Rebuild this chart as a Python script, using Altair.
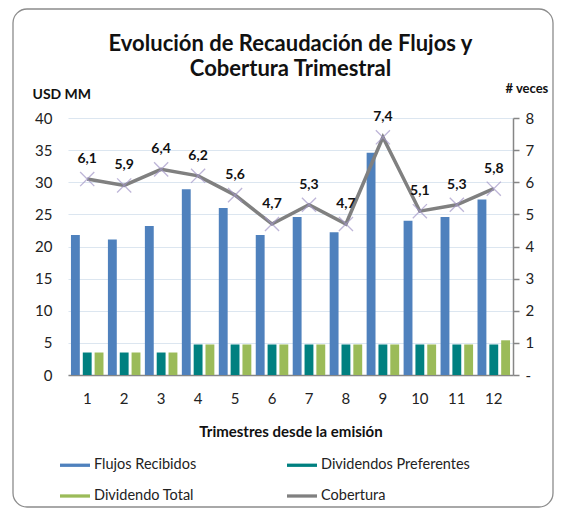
import altair as alt
import pandas as pd

trimestres = list(range(1, 13))
flujos = [21.8, 21.1, 23.2, 28.9, 26.0, 21.8, 24.6, 22.2, 34.6, 24.0, 24.6, 27.3]
div_pref = [3.5, 3.5, 3.5, 4.75, 4.75, 4.75, 4.75, 4.75, 4.75, 4.75, 4.75, 4.75]
div_total = [3.5, 3.5, 3.5, 4.75, 4.75, 4.75, 4.75, 4.75, 4.75, 4.75, 4.75, 5.4]
cobertura = [6.1, 5.9, 6.4, 6.2, 5.6, 4.7, 5.3, 4.7, 7.4, 5.1, 5.3, 5.8]

series_names = ["Flujos Recibidos", "Dividendos Preferentes", "Dividendo Total", "Cobertura"]
series_colors = ["#4F81BD", "#008080", "#9BBB59", "#808080"]

rows = []
for name, vals in zip(series_names[:3], [flujos, div_pref, div_total]):
    for t, v in zip(trimestres, vals):
        rows.append({"Trimestre": t, "serie": name, "valor": v})
bars_df = pd.DataFrame(rows)

line_df = pd.DataFrame({
    "Trimestre": trimestres,
    "Cobertura": cobertura,
    "serie": ["Cobertura"] * len(trimestres),
    "etiqueta": [f"{v:.1f}".replace(".", ",") for v in cobertura],
})

FONT = "Lato"
W, H = 445, 257

x_enc = alt.X("Trimestre:O",
              scale=alt.Scale(paddingInner=0.12, paddingOuter=0.08),
              axis=alt.Axis(title="Trimestres desde la emisión", labelAngle=0,
                            labelFontSize=15, labelPadding=16, ticks=False,
                            domainColor="#868686", domainWidth=1.5,
                            titleFontSize=15, titleFontWeight="bold",
                            titlePadding=18, labelColor="#222", titleColor="#111"))

color_scale = alt.Scale(domain=series_names, range=series_colors)

frame = alt.Chart(pd.DataFrame({"a": [0]})).mark_rect(
    fill="white", fillOpacity=0, stroke="#8c8c8c", strokeWidth=1.3, cornerRadius=14
).encode(x=alt.value(-55), x2=alt.value(485), y=alt.value(-109), y2=alt.value(389))

bars = alt.Chart(bars_df).mark_bar().encode(
    x=x_enc,
    xOffset=alt.XOffset("serie:N", sort=series_names[:3],
                        scale=alt.Scale(domain=series_names[:3], paddingInner=0.25, paddingOuter=0)),
    y=alt.Y("valor:Q", scale=alt.Scale(domain=[0, 40], nice=False),
            axis=alt.Axis(values=list(range(0, 45, 5)), title="USD MM", titleAngle=0,
                          titleX=-36, titleY=-24, titleAlign="left", titleBaseline="middle",
                          titleFontSize=14, titleFontWeight="bold", titleColor="#111",
                          labelFontSize=15, labelColor="#222", labelPadding=16,
                          domain=False, ticks=False, gridColor="#DCE6F0", gridWidth=1.2)),
    color=alt.Color("serie:N", scale=color_scale,
                    legend=alt.Legend(title=None, orient="none", legendX=-8, legendY=332,
                                      direction="horizontal",
                                      columns=2, columnPadding=90, rowPadding=9,
                                      symbolType="M-1,-0.11H1V0.11H-1Z", symbolSize=900,
                                      symbolStrokeWidth=0, labelFontSize=14.5, labelOffset=4,
                                      labelColor="#222", labelLimit=300)),
)

y_right = alt.Y("Cobertura:Q", scale=alt.Scale(domain=[0, 8], nice=False),
                axis=alt.Axis(orient="right", values=list(range(0, 9)), title="# veces",
                              labelExpr="datum.value == 0 ? '-' : datum.label",
                              titleAngle=0, titleX=-8, titleY=-30, titleAlign="left",
                              titleBaseline="middle", titleFontSize=13, titleFontWeight="bold",
                              titleColor="#111", labelFontSize=15, labelColor="#222",
                              labelPadding=6, domainColor="#868686", domainWidth=1.5,
                              tickColor="#868686", tickSize=6, tickWidth=1.5, grid=False))

base = alt.Chart(line_df).encode(x=alt.X("Trimestre:O"), y=y_right)

line = base.mark_line(strokeWidth=3.5).encode(color=alt.Color("serie:N", scale=color_scale))

points = base.mark_point(
    shape="M-1,-1L1,1M1,-1L-1,1", filled=False, stroke="#A397C8", strokeWidth=1.3, size=200
)

labels = base.mark_text(
    dy=-20, fontSize=14, fontWeight="bold", color="#111", font=FONT
).encode(text="etiqueta:N")

right = alt.layer(line, points, labels)

chart = alt.layer(frame, bars, right).resolve_scale(y="independent").properties(
    width=W, height=H,
    title=alt.Title(["Evolución de Recaudación de Flujos y", "Cobertura Trimestral"],
                    fontSize=22, fontWeight="bold", font=FONT, color="#111",
                    anchor="middle", lineHeight=25, offset=-73),
    autosize=alt.AutoSizeParams(type="none"),
    padding={"left": 60, "top": 110, "right": 41, "bottom": 133},
).configure(font=FONT).configure_view(stroke=None)

chart.save("out.html", embed_options={"renderer": "svg", "actions": False})
